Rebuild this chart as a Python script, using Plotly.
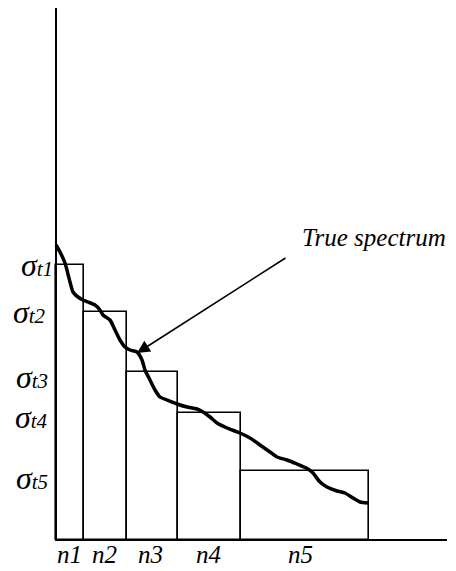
import plotly.graph_objects as go

# Step (bin) edges along n-axis and step heights
bin_edges = [0, 28, 71, 122, 185, 313]
bin_heights = [275, 228, 168, 127, 69]
bin_labels = ["n1", "n2", "n3", "n4", "n5"]
sigma_labels = ["t1", "t2", "t3", "t4", "t5"]
sigma_label_y = [275, 228, 163, 123, 62]
sigma_label_xr = [-1, -8, -6, -6, -6]

# True spectrum curve
curve_x = [0, 4, 9, 14, 17, 22, 27, 32, 39, 44, 47, 54, 59, 64, 69, 74, 81, 86, 89, 94,
           99, 104, 111, 121, 131, 141, 147, 154, 161, 171, 184, 194, 204, 214, 221, 231,
           241, 252, 257, 264, 271, 281, 289, 297, 304, 312]
curve_y = [295, 288, 277, 258, 248, 243, 240, 238, 235, 230, 225, 220, 210, 200, 193, 190,
           188, 180, 170, 160, 150, 143, 140, 136, 133, 131, 128, 123, 117, 112, 107, 102,
           95, 88, 83, 80, 76, 71, 67, 58, 53, 49, 47, 42, 38, 37]

widths = [bin_edges[i + 1] - bin_edges[i] for i in range(len(bin_heights))]
centers = [(bin_edges[i] + bin_edges[i + 1]) / 2 for i in range(len(bin_heights))]

fig = go.Figure()
fig.add_trace(go.Bar(
    x=centers, y=bin_heights, width=widths, base=0,
    marker=dict(color="rgba(0,0,0,0)", line=dict(color="black", width=1.6)),
    showlegend=False, hoverinfo="skip",
))
fig.add_trace(go.Scatter(
    x=curve_x, y=curve_y, mode="lines",
    line=dict(color="black", width=3.5, shape="spline", smoothing=0.6),
    showlegend=False, hoverinfo="skip",
))

FONT = "'Liberation Serif', 'Times New Roman', 'DejaVu Serif', serif"

# axes lines
fig.add_shape(type="line", x0=0, x1=0, y0=0, y1=532, line=dict(color="black", width=2))
fig.add_shape(type="line", x0=-1, x1=391, y0=0, y1=0, line=dict(color="black", width=2))

# sigma labels
for lab, yv, xr in zip(sigma_labels, sigma_label_y, sigma_label_xr):
    fig.add_annotation(
        x=xr, y=yv, xanchor="right", yanchor="middle", showarrow=False,
        text="<i>σ<span style=\"font-size:21px\">%s</span></i>" % lab,
        font=dict(family=FONT, size=32, color="black"),
    )

# n labels
n_label_x = [13, 48, 94, 152, 244]
for lab, xv in zip(bin_labels, n_label_x):
    fig.add_annotation(
        x=xv, y=-14, xanchor="center", yanchor="middle", showarrow=False,
        text="<i>%s</i>" % lab,
        font=dict(family=FONT, size=25, color="black"),
    )

# True spectrum label with arrow
fig.add_annotation(
    x=318, y=303, xanchor="center", yanchor="middle", showarrow=False,
    text="<i>True spectrum</i>",
    font=dict(family=FONT, size=25, color="black"),
)
fig.add_annotation(
    x=81, y=187, ax=231, ay=283, axref="x", ayref="y", xref="x", yref="y",
    text="", showarrow=True, arrowhead=2, arrowsize=1.6, arrowwidth=1.6,
    arrowcolor="black",
)

# page body has an 8px margin: figure is sized to fit the remaining window
fig.update_layout(
    width=448, height=563,
    margin=dict(l=0, r=0, t=0, b=0),
    paper_bgcolor="white", plot_bgcolor="white",
    font=dict(family=FONT),
    xaxis=dict(range=[-48, 400], visible=False, fixedrange=True),
    yaxis=dict(range=[-31, 532], visible=False, fixedrange=True),
    bargap=0,
)

fig.write_html("out.html")
